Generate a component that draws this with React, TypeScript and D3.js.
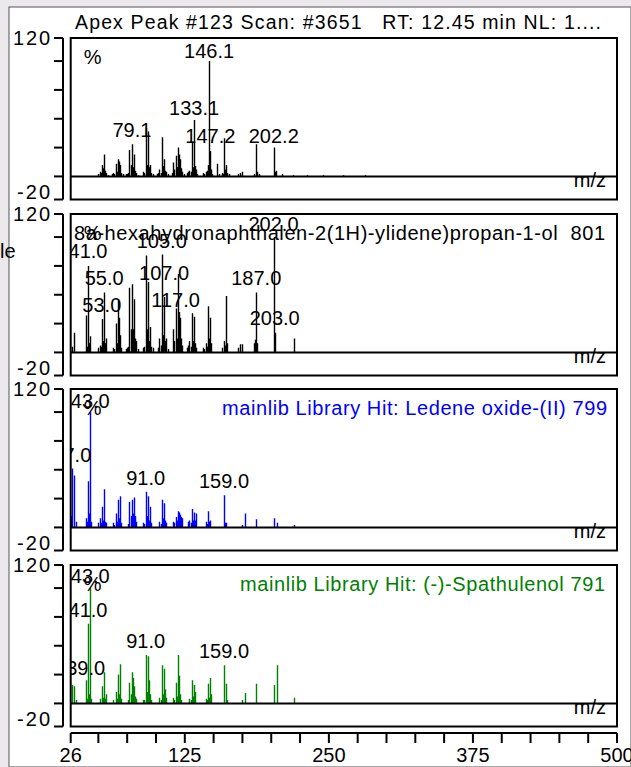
import React from 'react';
import * as d3 from 'd3';

// ---------- data ----------
const xDomain: [number, number] = [26, 500];
const yDomain: [number, number] = [-20, 120];
const xTickValues = [26, 50, 75, 100, 125, 150, 175, 200, 225, 250, 275, 300, 325, 350, 375, 400, 425, 450, 475, 500];
const xTickLabels = [26, 125, 250, 375, 500];
const yTickValues = [-20, 0, 25, 50, 75, 100, 120];
const yTickLabels = [120, -20];

const titleText = 'Apex Peak #123 Scan: #3651   RT: 12.45 min NL: 1....';
const hit1Text = '(E)-2-(4a,8-Dimethyl-3,4,4a,5,6,8a-hexahydronaphthalen-2(1H)-ylidene)propan-1-ol  801';
const hit2Text = 'mainlib Library Hit: Ledene oxide-(II) 799';
const hit3Text = 'mainlib Library Hit: (-)-Spathulenol 791';

const sampleSpectrum: [number, number][] = [
  [50, 2], [51, 4], [52, 3], [53, 10], [54, 7], [55, 19], [56, 5], [57, 3], [58, 1],
  [62, 2], [63, 3], [64, 2], [65, 11], [66, 4], [67, 15], [68, 13], [69, 10], [70, 3], [71, 2],
  [74, 2], [75, 2], [76, 3], [77, 23], [78, 10], [79, 28], [80, 8], [81, 19], [82, 5], [83, 3], [84, 1],
  [89, 4], [90, 3], [91, 42], [92, 10], [93, 39], [94, 8], [95, 10], [96, 3], [97, 2],
  [101, 2], [102, 3], [103, 6], [104, 3], [105, 34], [106, 9], [107, 15], [108, 5], [109, 4], [110, 2],
  [114, 3], [115, 12], [116, 6], [117, 18], [118, 8], [119, 25], [120, 19], [121, 15], [122, 7], [123, 4], [124, 2],
  [127, 3], [128, 4], [129, 5], [130, 4], [131, 30], [132, 8], [133, 49], [134, 9], [135, 6], [136, 2],
  [141, 3], [142, 2], [143, 4], [144, 5], [145, 10], [146, 100], [147, 22], [148, 6], [149, 2],
  [153, 11], [155, 2], [157, 3], [158, 2], [159, 33], [160, 6], [161, 10], [162, 3], [163, 2],
  [171, 2], [173, 3], [175, 4], [185, 2], [187, 28], [188, 4], [189, 2],
  [202, 25], [203, 4], [204, 5], [209, 2], [219, 1], [231, 1], [245, 1], [262, 1], [281, 1],
];
const sampleLabels = ['146.1', '133.1', '79.1', '147.2', '202.2'];

const hit1Spectrum: [number, number][] = [
  [27, 5], [29, 17], [39, 32], [40, 5], [41, 75], [42, 8], [43, 14],
  [50, 4], [51, 6], [52, 5], [53, 29], [54, 10], [55, 52], [56, 8], [57, 12],
  [63, 4], [64, 3], [65, 25], [66, 8], [67, 45], [68, 30], [69, 15], [70, 4],
  [74, 3], [75, 4], [76, 5], [77, 56], [78, 20], [79, 59], [80, 20], [81, 46], [82, 12], [83, 10], [84, 3],
  [89, 4], [90, 5], [91, 84], [92, 20], [93, 61], [94, 10], [95, 22], [96, 5], [97, 4],
  [102, 4], [103, 12], [104, 6], [105, 85], [106, 15], [107, 48], [108, 10], [109, 12], [110, 3],
  [115, 20], [116, 10], [117, 38], [118, 12], [119, 68], [120, 35], [121, 30], [122, 12], [123, 6],
  [127, 4], [128, 6], [129, 10], [130, 5], [131, 34], [132, 10], [133, 31], [134, 8], [135, 4],
  [141, 4], [142, 3], [143, 8], [144, 5], [145, 40], [146, 12], [147, 30], [148, 8],
  [157, 4], [159, 10], [160, 6], [161, 49], [162, 8],
  [171, 4], [173, 7], [175, 7], [185, 8], [186, 11], [187, 52], [188, 8],
  [202, 100], [203, 17], [220, 12],
];
const hit1Labels = ['202.0', '105.0', '41.0', '55.0', '107.0', '187.0', '53.0', '117.0', '203.0'];

const hit2Spectrum: [number, number][] = [
  [26, 10], [27, 51], [29, 45], [31, 5], [39, 8], [40, 5], [41, 40], [42, 12], [43, 100], [44, 5],
  [50, 4], [51, 8], [52, 4], [53, 18], [54, 6], [55, 33], [56, 5], [57, 4],
  [63, 4], [64, 2], [65, 12], [66, 5], [67, 24], [68, 8], [69, 27], [70, 4],
  [76, 3], [77, 22], [78, 10], [79, 24], [80, 12], [81, 26], [82, 10], [83, 5],
  [89, 4], [90, 3], [91, 31], [92, 10], [93, 27], [94, 6], [95, 18], [96, 4],
  [103, 5], [104, 3], [105, 24], [106, 8], [107, 21], [108, 6], [109, 4],
  [115, 5], [116, 4], [117, 9], [118, 6], [119, 14], [120, 13], [121, 11], [122, 9], [123, 8],
  [128, 5], [129, 6], [130, 4], [131, 16], [132, 6], [133, 13], [134, 6], [135, 12],
  [143, 5], [144, 3], [145, 14], [146, 5], [147, 6],
  [159, 28], [160, 4], [161, 4], [175, 2], [177, 12], [187, 7], [202, 8], [205, 4], [220, 2],
];
const hit2Labels = ['43.0', '27.0', '91.0', '159.0'];

const hit3Spectrum: [number, number][] = [
  [27, 16], [29, 15], [31, 3], [39, 20], [40, 4], [41, 69], [42, 8], [43, 100], [44, 4],
  [51, 4], [53, 15], [54, 5], [55, 27], [56, 4], [57, 8],
  [63, 3], [65, 10], [66, 4], [67, 25], [68, 8], [69, 34], [70, 4],
  [76, 3], [77, 18], [78, 8], [79, 27], [80, 22], [81, 15], [82, 6], [83, 4],
  [89, 3], [90, 3], [91, 42], [92, 10], [93, 41], [94, 20], [95, 8], [96, 3],
  [103, 5], [104, 3], [105, 33], [106, 8], [107, 30], [108, 12], [109, 5],
  [115, 5], [116, 3], [117, 18], [118, 6], [119, 42], [120, 24], [121, 8], [122, 3],
  [129, 4], [130, 3], [131, 20], [132, 6], [133, 16], [134, 10],
  [143, 4], [144, 3], [145, 17], [146, 5], [147, 22], [148, 8],
  [159, 33], [161, 17], [162, 3], [175, 3], [177, 9], [187, 17], [202, 16], [205, 33], [220, 5],
];
const hit3Labels = ['43.0', '41.0', '91.0', '159.0', '39.0'];

// ---------- layout ----------
const W = 631;
const H = 767;
const PLOT_L = 70.7;
const PLOT_R = 617;
const PANEL_TOPS = [38, 214, 389, 565];
const PANEL_H = 161.5;
const AXIS_Y = 733;
const FONT = "'Liberation Sans', Arial, Helvetica, sans-serif";
// label baseline heights (in % units) mimicking the instrument's overlap avoidance
const LABEL_LEVELS = [
  [102.6, 53.2, 34.2, 29, 29],
  [105, 90.5, 81.8, 58.4, 62.8, 58.4, 35, 39.4, 23.7],
  [103.5, 56.7, 36.8, 34.2],
  [104.4, 74.9, 48, 39.4, 24.6],
];
// subtitle placement: [x start, textLength]
const SUB_LAYOUT: ([number, number] | null)[] = [null, [74, 531], [222, 385], [240, 365]];
const SPLIT_AT = '8a-hexa';
const YLABEL_LEN: Record<string, number> = { '120': 37, '-20': 33 };

const panels = [
  { spectrum: sampleSpectrum, labels: sampleLabels, color: '#000000', sub: null as string | null },
  { spectrum: hit1Spectrum, labels: hit1Labels, color: '#000000', sub: hit1Text },
  { spectrum: hit2Spectrum, labels: hit2Labels, color: '#0000ff', sub: hit2Text },
  { spectrum: hit3Spectrum, labels: hit3Labels, color: '#008000', sub: hit3Text },
];

const x = d3.scaleLinear().domain(xDomain).range([PLOT_L, PLOT_R]);

function Subtitle({ text, color, top, layout }: { text: string; color: string; top: number; layout: [number, number] }) {
  const idx = text.indexOf(SPLIT_AT);
  const [sx, len] = layout;
  if (idx > 0) {
    const pre = text.slice(0, idx);
    const rest = text.slice(idx);
    return (
      <g>
        <text x={sx - 5} y={top + 26} fontSize={20} textAnchor="end" fill={color} style={{ whiteSpace: 'pre' }}>
          {pre}
        </text>
        <text x={sx} y={top + 26} fontSize={20} textLength={len} lengthAdjust="spacing" fill={color} style={{ whiteSpace: 'pre' }}>
          {rest}
        </text>
      </g>
    );
  }
  return (
    <text x={sx} y={top + 26} fontSize={20} textLength={len} lengthAdjust="spacing" fill={color} style={{ whiteSpace: 'pre' }}>
      {text}
    </text>
  );
}

export default function App() {
  return (
    <svg
      width={W}
      height={H}
      style={{ position: 'absolute', left: 0, top: 0, fontFamily: FONT }}
    >
      <rect x={0} y={0} width={W} height={H} fill="#ebe9ec" />
      <rect x={9} y={7} width={W - 9} height={H - 7} fill="#ffffff" stroke="#6e6e6e" strokeWidth={1.2} />
      <text x={0} y={258} fontSize={20} fill="#000">le</text>

      {/* title */}
      <text
        x={75}
        y={29}
        fontSize={19.5}
        textLength={526}
        lengthAdjust="spacing"
        style={{ whiteSpace: 'pre' }}
        fill="#000"
      >
        {titleText}
      </text>

      {panels.map((p, i) => {
        const top = PANEL_TOPS[i];
        const y = d3.scaleLinear().domain(yDomain).range([top + PANEL_H, top]);
        const y0 = y(0);
        const clipId = `clip${i}`;
        const sl = SUB_LAYOUT[i];
        return (
          <g key={i}>
            <defs>
              <clipPath id={clipId}>
                <rect x={PLOT_L} y={top} width={PLOT_R - PLOT_L} height={PANEL_H} />
              </clipPath>
            </defs>
            {/* y axis */}
            <line x1={63} x2={63} y1={y(120)} y2={y(-20)} stroke="#000" strokeWidth={2} />
            {yTickValues.map((t) => (
              <line key={t} x1={54} x2={63} y1={y(t)} y2={y(t)} stroke="#000" strokeWidth={2} />
            ))}
            {yTickLabels.map((t) => (
              <text
                key={t}
                x={50 - YLABEL_LEN[String(t)]}
                y={y(t) + (t > 0 ? 7 : -1)}
                fontSize={20}
                textLength={YLABEL_LEN[String(t)]}
                lengthAdjust="spacing"
                fill="#000"
              >
                {t}
              </text>
            ))}

            <g clipPath={`url(#${clipId})`}>
              {/* peaks */}
              {p.spectrum.map(([m, v]) => {
                const px = Math.round(x(m)) + 0.5;
                return (
                  <line
                    key={m}
                    x1={px}
                    x2={px}
                    y1={y0}
                    y2={y(v)}
                    stroke={p.color}
                    strokeWidth={1.4}
                  />
                );
              })}
              {/* zero line */}
              <line x1={PLOT_L} x2={PLOT_R} y1={y0} y2={y0} stroke="#000" strokeWidth={2} />
              {/* subtitle */}
              {p.sub && sl && <Subtitle text={p.sub} color={p.color} top={top} layout={sl} />}
              {/* % sign */}
              <text x={PLOT_L + 13} y={top + 26} fontSize={20} fill="#000">%</text>
              {/* peak labels */}
              {p.labels.map((lab, j) => (
                <text
                  key={lab}
                  x={x(parseFloat(lab))}
                  y={y(LABEL_LEVELS[i][j])}
                  fontSize={20}
                  textAnchor="middle"
                  fill="#000"
                >
                  {lab}
                </text>
              ))}
              {/* m/z */}
              <text x={606} y={y0 + 11} fontSize={20} textAnchor="end" fill="#000">m/z</text>
            </g>
            {/* frame */}
            <rect
              x={PLOT_L}
              y={top}
              width={PLOT_R - PLOT_L}
              height={PANEL_H}
              fill="none"
              stroke="#000"
              strokeWidth={2}
            />
          </g>
        );
      })}

      {/* x axis */}
      <line x1={PLOT_L} x2={PLOT_R} y1={AXIS_Y} y2={AXIS_Y} stroke="#000" strokeWidth={2} />
      {xTickValues.map((t) => (
        <line key={t} x1={x(t)} x2={x(t)} y1={AXIS_Y} y2={AXIS_Y + 10} stroke="#000" strokeWidth={2} />
      ))}
      {xTickLabels.map((t) => (
        <text key={t} x={x(t)} y={762} fontSize={20} textAnchor="middle" fill="#000">
          {t}
        </text>
      ))}
    </svg>
  );
}
